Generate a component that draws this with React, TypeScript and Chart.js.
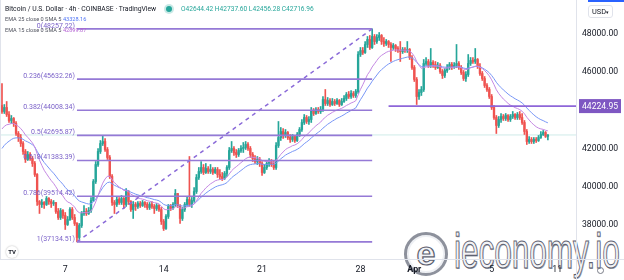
import React, { useEffect, useRef } from "react";
import { Chart, registerables } from "chart.js";
Chart.register(...registerables);

// ---- data (BTC/USD 4h) ----
const firstOpen = 44256;
const closes = [
  43943, 44152, 43786, 43473, 43577, 43316, 42794, 42585, 42272, 41854,
  41436, 41697, 41489, 41227, 40653, 39243, 39087, 39191, 39087, 39400,
  39243, 39139, 39191, 38721, 38408, 38773, 38512, 38042, 38303, 38825,
  38408, 38094, 37364, 37990, 38617, 38721, 38617, 38773, 39295, 40287,
  41175, 41854, 42272, 42376, 41958, 41541, 40549, 39191, 39087, 39348,
  39191, 39400, 39087, 39765, 39243, 38825, 39087, 38982, 39139, 39034,
  39191, 39087, 38930, 39087, 38982, 38878, 39034, 38825, 38199, 37833,
  38460, 38982, 38878, 39087, 39661, 39034, 38356, 38825, 39087, 39348,
  39087, 39295, 39765, 40496, 40810, 41019, 40757, 40966, 40810, 40914,
  40757, 40914, 40653, 40549, 40444, 40705, 41019, 41906, 42011, 41802,
  41697, 41906, 42011, 42063, 42220, 42011, 41697, 41489, 41332, 41436,
  41227, 40757, 41019, 41227, 41332, 41175, 41019, 42167, 42585, 42898,
  42690, 42846, 42585, 42481, 42637, 42428, 42742, 43003, 43368, 43629,
  43421, 43525, 43995, 43838, 44047, 43943, 44047, 44569, 44360, 44517,
  44308, 44465, 44360, 44517, 44308, 44465, 44622, 44830, 44726, 44883,
  44778, 44987, 46919, 47128, 47024, 47442, 47703, 47285, 47860, 47598,
  47807, 47912, 47598, 47494, 47598, 47442, 47285, 47389, 47233, 47128,
  47076, 47181, 47128, 47181, 46763, 46240, 45614, 44726, 44935, 45092,
  46449, 46554, 46345, 46502, 46397, 46240, 46345, 46032, 45823, 46084,
  46240, 46397, 46240, 46345, 46449, 46240, 45979, 45666, 45875, 46449,
  46606, 46554, 46658, 46293, 45927, 45666, 45300, 45092, 44726, 44152,
  43629, 43212, 43525, 43682, 43577, 43734, 43525, 43682, 43786, 43629,
  43786, 43629, 43368, 42898, 42376, 42481, 42376, 42481, 42428, 42585,
  42742, 42846, 42644.42, 42716.96,
];
const highs = [
  45405, 44308, 44465, 43943, 43734, 43629, 43421, 42898, 42742, 42376,
  41958, 41854, 41802, 41593, 41332, 40705, 39295, 39348, 39243, 39504,
  39452, 39348, 39295, 39191, 38878, 38878, 38825, 38669, 38460, 38930,
  38930, 38564, 38147, 38094, 38721, 39034, 38878, 38930, 39452, 40392,
  41332, 42011, 42428, 42690, 42533, 42063, 41645, 40653, 39295, 39504,
  39452, 39556, 39452, 39922, 39818, 39295, 39243, 39191, 39243, 39243,
  39295, 39243, 39191, 39191, 39243, 39087, 39139, 39087, 38930, 38303,
  38564, 39087, 39087, 39191, 39870, 39661, 39087, 38930, 39191, 39504,
  41593, 39452, 39974, 40653, 41019, 41332, 41175, 41227, 41071, 41175,
  41019, 41019, 41019, 40914, 40757, 40810, 41123, 42063, 42376, 42115,
  41958, 42011, 42167, 42324, 42376, 42324, 42115, 41802, 41645, 41593,
  41541, 41332, 41175, 41332, 41489, 41436, 41332, 42324, 43421, 43107,
  43055, 43003, 42898, 42742, 42742, 42690, 42846, 43107, 43525, 43786,
  43734, 43682, 44152, 44099, 44152, 44152, 44204, 44726, 45092, 44674,
  44622, 44622, 44569, 44622, 44569, 44622, 44778, 44935, 44987, 45039,
  44987, 45092, 47076, 47285, 47285, 47598, 47860, 47912, 48257.22, 47964,
  47964, 48068, 47964, 47807, 47703, 47651, 47546, 47494, 47442, 47337,
  47598, 47285, 47285, 47598, 47233, 46867, 46345, 45718, 45092, 45248,
  46658, 46763, 46658, 47233, 46606, 46554, 46502, 46449, 46136, 46188,
  46397, 46502, 46502, 46502, 47442, 46554, 46345, 46084, 46032, 46919,
  46763, 46763, 47233, 46711, 46449, 46032, 45770, 45405, 45196, 44830,
  44256, 43734, 43682, 43838, 43786, 43838, 43786, 43786, 43943, 43838,
  43890, 43943, 43838, 43473, 43003, 42637, 42585, 42585, 42585, 42690,
  42898, 42951, 42898, 42737.6,
];
const lows = [
  43838, 43838, 43682, 43368, 43316, 43160, 42690, 42376, 42115, 41697,
  41280, 41384, 41384, 41071, 40549, 39034, 38617, 38930, 38878, 39034,
  39087, 38930, 39034, 38617, 38303, 38303, 38356, 37781, 37990, 38251,
  38303, 37990, 37134.51, 37259, 37886, 38512, 38512, 38564, 38669, 39243,
  40183, 41071, 41750, 42167, 41854, 41436, 40444, 39034, 38617, 38982,
  39087, 39087, 38878, 38982, 39087, 38721, 38356, 38773, 38878, 38930,
  38982, 38930, 38825, 38825, 38878, 38617, 38773, 38721, 38042, 37729,
  37781, 38356, 38773, 38825, 38982, 38930, 38094, 38251, 38721, 38982,
  38982, 38930, 39191, 39661, 40392, 40705, 40653, 40705, 40705, 40705,
  40653, 40705, 40496, 40392, 40340, 40392, 40549, 40914, 41802, 41645,
  41541, 41593, 41802, 41802, 41958, 41906, 41541, 41332, 41227, 41175,
  41071, 40601, 40705, 40914, 41071, 41071, 40914, 40914, 42063, 42428,
  42533, 42585, 42481, 42324, 42376, 42324, 42376, 42637, 42898, 43264,
  43316, 43264, 43368, 43734, 43786, 43838, 43838, 43943, 44256, 44256,
  44204, 44256, 44256, 44308, 44204, 44256, 44413, 44517, 44622, 44622,
  44674, 44674, 44883, 46815, 46919, 46972, 47285, 47181, 47233, 47442,
  47494, 47651, 47442, 47337, 47389, 47285, 46554, 47181, 47076, 47024,
  46554, 46972, 47024, 47024, 46658, 46136, 45509, 44308, 44569, 44778,
  44987, 46345, 46240, 46240, 46240, 46136, 46188, 45927, 45666, 45718,
  45979, 46136, 46136, 46188, 46240, 46136, 45875, 45562, 45509, 45770,
  46345, 46449, 46449, 46188, 45823, 45562, 45196, 44987, 44622, 44047,
  43525, 42794, 43107, 43368, 43473, 43473, 43421, 43421, 43577, 43525,
  43525, 43525, 43264, 42742, 42220, 42272, 42272, 42272, 42324, 42376,
  42533, 42690, 42585, 42456.28,
];
const ema15Seed = 42900;
const ema25Seed = 41850;

const fibRatioLabels = ["0", "0.236", "0.382", "0.5", "0.618", "0.786", "1"];
const fibLevels = [48257.22, 45632.26, 44008.34, 42695.87, 41383.39, 39514.42, 37134.51];
const fibStartIndex = 32;
const fibEndIndex = 158;
const hLinePrice = 44224.95;
const hLineStartIndex = 165;
const lastPrice = 42716.96;

const tickIndices = [27, 69, 111, 153, 176, 209, 237];
const tickLabels = ["7", "14", "21", "28", "Apr", "5", "11"];
const priceTicks = [38000, 40000, 42000, 44000, 46000, 48000];

const titleText = "Bitcoin / U.S. Dollar · 4h · COINBASE · TradingView";
const ohlcText = "O42644.42 H42737.60 L42456.28 C42716.96";
const ema25Label = "EMA 25 close 0 SMA 5";
const ema25Value = "43328.16";
const ema15Label = "EMA 15 close 0 SMA 5";
const ema15Value = "42899.87";

const X_MIN = -0.85;
const X_MAX = 245;
const Y_MIN = 36240;
const Y_MAX = 49765;

const UP = "#26a69a";
const DOWN = "#ef5350";
const FONT = "Roboto";

function ema(values: number[], period: number, seed: number) {
  const a = 2 / (period + 1);
  let e = seed;
  return values.map((v) => (e = e + a * (v - e)));
}

const overlayPlugin = {
  id: "overlay",
  afterDatasetsDraw(chart: any) {
    const { ctx, chartArea } = chart;
    const x = chart.scales.x;
    const y = chart.scales.y;
    ctx.save();
    // fib labels
    ctx.font = `7px ${FONT}`;
    ctx.fillStyle = "#7b62c9";
    ctx.textAlign = "right";
    ctx.textBaseline = "middle";
    const lx = x.getPixelForValue(fibStartIndex) - 2;
    fibLevels.forEach((lv, k) => {
      ctx.fillText(`${fibRatioLabels[k]}(${lv.toFixed(2)})`, lx, y.getPixelForValue(lv) - 3);
    });
    // separators
    ctx.fillStyle = "#e0e3eb";
    ctx.fillRect(Math.round(chartArea.right), 0, 1, chart.height);
    ctx.fillRect(0, Math.round(chartArea.bottom), chart.width, 1);
    ctx.fillRect(0, 0, 1, chartArea.bottom);
    // price label box
    const py = y.getPixelForValue(hLinePrice);
    ctx.fillStyle = "#7e57c2";
    ctx.fillRect(chartArea.right + 3, py - 7, 42, 14);
    ctx.fillStyle = "#ffffff";
    ctx.font = `8.6px ${FONT}`;
    ctx.textAlign = "left";
    ctx.fillText(hLinePrice.toFixed(2), chartArea.right + 6, py + 0.5);
    ctx.restore();
  },
};

export default function App() {
  const canvasRef = useRef<HTMLCanvasElement | null>(null);

  useEffect(() => {
    document.body.style.margin = "0";
    const opens = [firstOpen, ...closes.slice(0, -1)];
    const colors = closes.map((c, i) => (c >= opens[i] ? UP : DOWN));
    const wickData = closes.map((_, i) => ({ x: i, y: [lows[i], highs[i]] }));
    const bodyData = closes.map((c, i) => ({ x: i, y: [opens[i], c] }));
    const e15 = ema(closes, 15, ema15Seed).map((v, i) => ({ x: i, y: v }));
    const e25 = ema(closes, 25, ema25Seed).map((v, i) => ({ x: i, y: v }));

    const fibSets = fibLevels.map((lv) => ({
      type: "line",
      data: [
        { x: fibStartIndex, y: lv },
        { x: fibEndIndex, y: lv },
      ],
      borderColor: "#9579d6",
      borderWidth: 1.6,
      pointRadius: 0,
      order: 0,
    }));

    Chart.defaults.font.family = FONT;

    const zeroPad = (s: any) => {
      s.paddingTop = 0;
      s.paddingBottom = 0;
      s.paddingLeft = 0;
      s.paddingRight = 0;
    };

    const chart = new Chart(canvasRef.current as HTMLCanvasElement, {
      type: "bar",
      data: {
        datasets: [
          {
            type: "line",
            data: [
              { x: X_MIN, y: lastPrice },
              { x: X_MAX, y: lastPrice },
            ],
            borderColor: "rgba(38,166,154,0.22)",
            borderWidth: 1,
            pointRadius: 0,
            order: 5,
          },
          {
            type: "bar",
            data: wickData,
            backgroundColor: colors,
            barThickness: 1,
            grouped: false,
            borderWidth: 0,
            order: 4,
          },
          {
            type: "bar",
            data: bodyData,
            backgroundColor: colors,
            barThickness: 1.7,
            grouped: false,
            borderWidth: 0,
            minBarLength: 1,
            order: 3,
          },
          {
            type: "line",
            data: e25,
            borderColor: "#7896f6",
            borderWidth: 1,
            pointRadius: 0,
            tension: 0,
            order: 2,
          },
          {
            type: "line",
            data: e15,
            borderColor: "#c488e2",
            borderWidth: 1,
            pointRadius: 0,
            tension: 0,
            order: 1,
          },
          ...fibSets,
          {
            type: "line",
            data: [
              { x: fibStartIndex, y: fibLevels[6] },
              { x: fibEndIndex, y: fibLevels[0] },
            ],
            borderColor: "#8a6ad8",
            borderWidth: 1.5,
            borderDash: [4, 4],
            pointRadius: 0,
            order: 0,
          },
          {
            type: "line",
            data: [
              { x: hLineStartIndex, y: hLinePrice },
              { x: X_MAX, y: hLinePrice },
            ],
            borderColor: "#8e66d8",
            borderWidth: 1.8,
            pointRadius: 0,
            order: 0,
          },
        ] as any,
      },
      options: {
        animation: false,
        responsive: false,
        events: [],
        layout: { padding: 0 },
        plugins: { legend: { display: false }, tooltip: { enabled: false } },
        scales: {
          x: {
            type: "linear",
            min: X_MIN,
            max: X_MAX,
            offset: false,
            grid: { display: false, drawTicks: false },
            border: { display: false },
            afterBuildTicks: (s: any) => {
              s.ticks = tickIndices.map((v) => ({ value: v }));
            },
            afterFit: (s: any) => {
              s.height = 21;
              zeroPad(s);
            },
            ticks: {
              autoSkip: false,
              maxRotation: 0,
              padding: 6,
              color: "#131722",
              font: (c: any) => ({
                size: 8.8,
                family: FONT,
                weight: c.tick && c.tick.label === "Apr" ? "bold" : "normal",
              }),
              callback: (v: any) => tickLabels[tickIndices.indexOf(Number(v))] ?? "",
            },
          },
          y: {
            type: "linear",
            position: "right",
            min: Y_MIN,
            max: Y_MAX,
            grid: { display: false, drawTicks: false },
            border: { display: false },
            afterBuildTicks: (s: any) => {
              s.ticks = priceTicks.map((v) => ({ value: v }));
            },
            afterFit: (s: any) => {
              s.width = 48;
              zeroPad(s);
            },
            ticks: {
              padding: 6,
              color: "#131722",
              font: { size: 8.6, family: FONT },
              callback: (v: any) => Number(v).toFixed(2),
            },
          },
        },
      } as any,
      plugins: [overlayPlugin],
    });
    return () => chart.destroy();
  }, []);

  const abs = (s: React.CSSProperties): React.CSSProperties => ({
    position: "absolute",
    whiteSpace: "nowrap",
    fontFamily: FONT,
    ...s,
  });

  return (
    <div style={{ position: "relative", width: 624, height: 280, overflow: "hidden", background: "#fff" }}>
      {/* watermark (behind chart) */}
      <div
        style={abs({
          left: 404,
          top: 232,
          width: 38,
          height: 38,
          borderRadius: "50%",
          border: "3px solid #8d919c",
          boxShadow: "inset 0 0 0 2px #eef0f4",
          textAlign: "center",
          lineHeight: "36px",
          fontSize: 34,
          fontWeight: "bold",
          color: "#f2f3f6",
          WebkitTextStroke: "1.2px #5d6170",
          fontFamily: "Liberation Sans",
        })}
      >
        e
      </div>
      <div
        style={abs({
          left: 454,
          top: 226,
          fontSize: 50,
          lineHeight: "50px",
          fontFamily: "Liberation Sans",
          color: "#f2f3f6",
          WebkitTextStroke: "1.1px #5d6170",
          textShadow: "1px 1px 0 #a3a7b1",
          transform: "scaleX(0.63)",
          transformOrigin: "left top",
        })}
      >
        ieconomy.io
      </div>
      <canvas ref={canvasRef} width={624} height={280} style={{ position: "absolute", left: 0, top: 0, display: "block" }} />
      {/* header */}
      <div style={abs({ left: 5, top: 4, fontSize: 6.8, lineHeight: "10px", color: "#131722" })}>{titleText}</div>
      <div
        style={abs({
          left: 166,
          top: 6,
          width: 6,
          height: 6,
          borderRadius: "50%",
          background: UP,
          boxShadow: "0 0 0 2px rgba(38,166,154,0.25)",
        })}
      />
      <div style={abs({ left: 181, top: 4, fontSize: 6.6, lineHeight: "10px", color: UP })}>{ohlcText}</div>
      <div style={abs({ left: 5, top: 15, fontSize: 5.6, lineHeight: "9px", color: "#50535e" })}>
        {ema25Label} <span style={{ color: "#4f74f5" }}>{ema25Value}</span>
      </div>
      <div style={abs({ left: 5, top: 25.5, fontSize: 5.6, lineHeight: "9px", color: "#50535e" })}>
        {ema15Label} <span style={{ color: "#b360d2" }}>{ema15Value}</span>
      </div>
      {/* right axis top */}
      <div style={abs({ left: 588, top: 0, width: 36, height: 2, background: "#2962ff" })} />
      <div
        style={abs({
          left: 588,
          top: 5,
          width: 23,
          height: 11,
          border: "1px solid #e0e3eb",
          borderRadius: 3,
          fontSize: 7.4,
          lineHeight: "11px",
          textAlign: "center",
          color: "#131722",
        })}
      >
        USD<span style={{ fontSize: 5 }}>▾</span>
      </div>
      {/* TV logo */}
      <div
        style={abs({
          left: 6,
          top: 246,
          width: 12,
          height: 12,
          borderRadius: "50%",
          background: "#fff",
          boxShadow: "0 0 2px rgba(0,0,0,0.3)",
          fontSize: 6,
          fontWeight: "bold",
          lineHeight: "12px",
          textAlign: "center",
          color: "#131722",
        })}
      >
        TV
      </div>
      {/* gear */}
      <div
        style={abs({
          left: 597,
          top: 267,
          width: 5,
          height: 5,
          borderRadius: "50%",
          border: "1px solid #787b86",
        })}
      />
    </div>
  );
}
